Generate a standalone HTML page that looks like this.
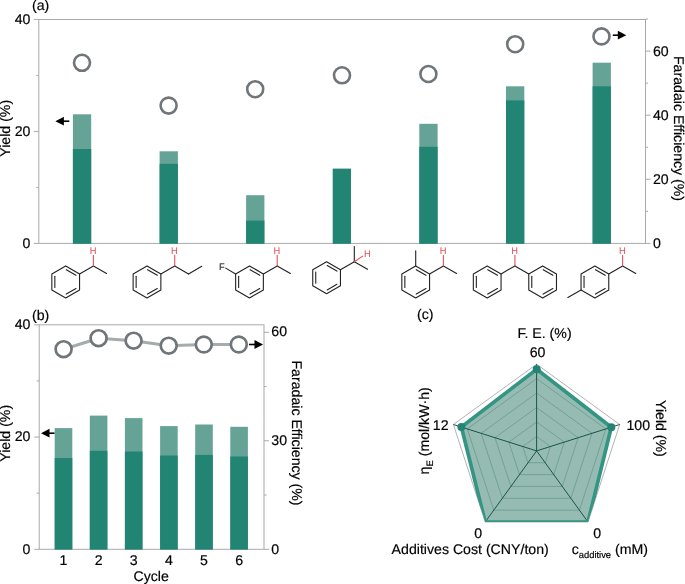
<!DOCTYPE html>
<html>
<head>
<meta charset="utf-8">
<title>Figure</title>
<style>
html,body{margin:0;padding:0;background:#fff;}
body{width:685px;height:584px;overflow:hidden;font-family:"Liberation Sans",sans-serif;}
svg{display:block;will-change:transform;}
svg text{font-family:"Liberation Sans",sans-serif;text-rendering:geometricPrecision;stroke:#000;stroke-width:0.18px;}
</style>
</head>
<body>
<svg width="685" height="584" viewBox="0 0 685 584">
<rect x="0" y="0" width="685" height="584" fill="#ffffff"/>
<rect x="38.8" y="19.5" width="606.7" height="223.9" fill="none" stroke="#a9a9a9" stroke-width="1"/>
<rect x="72.9" y="114.3" width="18.3" height="129.1" fill="#65a397"/>
<rect x="72.9" y="149" width="18.3" height="94.8" fill="#228573"/>
<rect x="159.6" y="151.3" width="18.3" height="92.1" fill="#65a397"/>
<rect x="159.6" y="163.8" width="18.3" height="80" fill="#228573"/>
<rect x="246.1" y="195.2" width="18.3" height="48.2" fill="#65a397"/>
<rect x="246.1" y="220.6" width="18.3" height="23.2" fill="#228573"/>
<rect x="332.7" y="168.6" width="18.3" height="75.2" fill="#228573"/>
<rect x="419.3" y="123.8" width="18.3" height="119.6" fill="#65a397"/>
<rect x="419.3" y="146.8" width="18.3" height="97" fill="#228573"/>
<rect x="506" y="86.3" width="18.3" height="157.1" fill="#65a397"/>
<rect x="506" y="100.4" width="18.3" height="143.4" fill="#228573"/>
<rect x="592.6" y="62.7" width="18.3" height="180.7" fill="#65a397"/>
<rect x="592.6" y="86.3" width="18.3" height="157.5" fill="#228573"/>
<line x1="33.8" y1="19.4" x2="38.8" y2="19.4" stroke="#a9a9a9" stroke-width="1" />
<text x="30.4" y="23.8" font-size="14.15" text-anchor="end" fill="#000" >40</text>
<line x1="36.3" y1="75.4" x2="38.8" y2="75.4" stroke="#a9a9a9" stroke-width="1" />
<line x1="33.8" y1="131.4" x2="38.8" y2="131.4" stroke="#a9a9a9" stroke-width="1" />
<text x="30.4" y="135.8" font-size="14.15" text-anchor="end" fill="#000" >20</text>
<line x1="36.3" y1="187.4" x2="38.8" y2="187.4" stroke="#a9a9a9" stroke-width="1" />
<line x1="33.8" y1="243.4" x2="38.8" y2="243.4" stroke="#a9a9a9" stroke-width="1" />
<text x="30.4" y="247.8" font-size="14.15" text-anchor="end" fill="#000" >0</text>
<line x1="645.5" y1="243.4" x2="650.5" y2="243.4" stroke="#a9a9a9" stroke-width="1" />
<text x="653" y="247.8" font-size="14.15" text-anchor="start" fill="#000" >0</text>
<line x1="645.5" y1="211.35" x2="648" y2="211.35" stroke="#a9a9a9" stroke-width="1" />
<line x1="645.5" y1="179.3" x2="650.5" y2="179.3" stroke="#a9a9a9" stroke-width="1" />
<text x="653" y="183.7" font-size="14.15" text-anchor="start" fill="#000" >20</text>
<line x1="645.5" y1="147.25" x2="648" y2="147.25" stroke="#a9a9a9" stroke-width="1" />
<line x1="645.5" y1="115.2" x2="650.5" y2="115.2" stroke="#a9a9a9" stroke-width="1" />
<text x="653" y="119.6" font-size="14.15" text-anchor="start" fill="#000" >40</text>
<line x1="645.5" y1="83.15" x2="648" y2="83.15" stroke="#a9a9a9" stroke-width="1" />
<line x1="645.5" y1="51.1" x2="650.5" y2="51.1" stroke="#a9a9a9" stroke-width="1" />
<text x="653" y="55.5" font-size="14.15" text-anchor="start" fill="#000" >60</text>
<line x1="645.5" y1="19.05" x2="648" y2="19.05" stroke="#a9a9a9" stroke-width="1" />
<circle cx="82" cy="62.8" r="8.0" fill="#fff" stroke="#70757a" stroke-width="2.6"/>
<circle cx="168.6" cy="105.6" r="8.0" fill="#fff" stroke="#70757a" stroke-width="2.6"/>
<circle cx="255.2" cy="89.2" r="8.0" fill="#fff" stroke="#70757a" stroke-width="2.6"/>
<circle cx="342" cy="75.3" r="8.0" fill="#fff" stroke="#70757a" stroke-width="2.6"/>
<circle cx="428.4" cy="74" r="8.0" fill="#fff" stroke="#70757a" stroke-width="2.6"/>
<circle cx="515.2" cy="44.2" r="8.0" fill="#fff" stroke="#70757a" stroke-width="2.6"/>
<circle cx="601.5" cy="36.4" r="8.0" fill="#fff" stroke="#70757a" stroke-width="2.6"/>
<line x1="59.4" y1="121.2" x2="69.3" y2="121.2" stroke="#000" stroke-width="1.6" />
<path d="M55.4 121.2 L63.9 116.8 L63.9 125.6 Z" fill="#000"/>
<line x1="612.8" y1="35.2" x2="622.3" y2="35.2" stroke="#000" stroke-width="1.6" />
<path d="M626.3 35.2 L617.8 30.8 L617.8 39.6 Z" fill="#000"/>
<text x="32" y="10.1" font-size="14.15" text-anchor="start" fill="#000" >(a)</text>
<text transform="translate(10.2,128.3) rotate(-90)" font-size="14.15" text-anchor="middle">Yield (%)</text>
<text transform="translate(674.2,128.5) rotate(90)" font-size="14.15" text-anchor="middle">Faradaic Efficiency (%)</text>
<polygon points="65.7,265.9 79.56,273.9 79.56,289.9 65.7,297.9 51.84,289.9 51.84,273.9" fill="none" stroke="#222222" stroke-width="1.1" stroke-linejoin="round"/>
<line x1="66.28" y1="269.7" x2="75.98" y2="275.3" stroke="#222222" stroke-width="1.1" stroke-linecap="round"/>
<line x1="75.98" y1="288.5" x2="66.28" y2="294.1" stroke="#222222" stroke-width="1.1" stroke-linecap="round"/>
<line x1="54.84" y1="287.5" x2="54.84" y2="276.3" stroke="#222222" stroke-width="1.1" stroke-linecap="round"/>
<line x1="79.56" y1="273.9" x2="93.41" y2="265.9" stroke="#222222" stroke-width="1.1" stroke-linecap="round"/>
<line x1="93.41" y1="265.9" x2="106.58" y2="273.5" stroke="#222222" stroke-width="1.1" stroke-linecap="round"/>
<line x1="93.41" y1="265.9" x2="93.41" y2="255.4" stroke="#e8505b" stroke-width="1.1" stroke-linecap="round"/>
<text x="93.16" y="253.55" font-size="9.3" text-anchor="middle" fill="#e8505b" style="stroke:#e8505b;stroke-width:0.05px">H</text>
<polygon points="147,265.9 160.86,273.9 160.86,289.9 147,297.9 133.14,289.9 133.14,273.9" fill="none" stroke="#222222" stroke-width="1.1" stroke-linejoin="round"/>
<line x1="147.58" y1="269.7" x2="157.28" y2="275.3" stroke="#222222" stroke-width="1.1" stroke-linecap="round"/>
<line x1="157.28" y1="288.5" x2="147.58" y2="294.1" stroke="#222222" stroke-width="1.1" stroke-linecap="round"/>
<line x1="136.14" y1="287.5" x2="136.14" y2="276.3" stroke="#222222" stroke-width="1.1" stroke-linecap="round"/>
<line x1="160.86" y1="273.9" x2="174.71" y2="265.9" stroke="#222222" stroke-width="1.1" stroke-linecap="round"/>
<line x1="174.71" y1="265.9" x2="188.57" y2="273.9" stroke="#222222" stroke-width="1.1" stroke-linecap="round"/>
<line x1="188.57" y1="273.9" x2="201.73" y2="266.3" stroke="#222222" stroke-width="1.1" stroke-linecap="round"/>
<line x1="174.71" y1="265.9" x2="174.71" y2="255.4" stroke="#e8505b" stroke-width="1.1" stroke-linecap="round"/>
<text x="174.46" y="253.55" font-size="9.3" text-anchor="middle" fill="#e8505b" style="stroke:#e8505b;stroke-width:0.05px">H</text>
<polygon points="249.5,265.9 263.36,273.9 263.36,289.9 249.5,297.9 235.64,289.9 235.64,273.9" fill="none" stroke="#222222" stroke-width="1.1" stroke-linejoin="round"/>
<line x1="250.08" y1="269.7" x2="259.78" y2="275.3" stroke="#222222" stroke-width="1.1" stroke-linecap="round"/>
<line x1="259.78" y1="288.5" x2="250.08" y2="294.1" stroke="#222222" stroke-width="1.1" stroke-linecap="round"/>
<line x1="238.64" y1="287.5" x2="238.64" y2="276.3" stroke="#222222" stroke-width="1.1" stroke-linecap="round"/>
<line x1="263.36" y1="273.9" x2="277.21" y2="265.9" stroke="#222222" stroke-width="1.1" stroke-linecap="round"/>
<line x1="277.21" y1="265.9" x2="290.38" y2="273.5" stroke="#222222" stroke-width="1.1" stroke-linecap="round"/>
<line x1="277.21" y1="265.9" x2="277.21" y2="255.4" stroke="#e8505b" stroke-width="1.1" stroke-linecap="round"/>
<text x="276.96" y="253.55" font-size="9.3" text-anchor="middle" fill="#e8505b" style="stroke:#e8505b;stroke-width:0.05px">H</text>
<line x1="235.64" y1="273.9" x2="225.67" y2="268.14" stroke="#222222" stroke-width="1.1" stroke-linecap="round"/>
<text x="221.84" y="269.75" font-size="9.3" text-anchor="middle" fill="#222222" style="stroke:#222222;stroke-width:0.1px">F</text>
<polygon points="326.6,261.7 340.46,269.7 340.46,285.7 326.6,293.7 312.74,285.7 312.74,269.7" fill="none" stroke="#222222" stroke-width="1.1" stroke-linejoin="round"/>
<line x1="327.18" y1="265.5" x2="336.88" y2="271.1" stroke="#222222" stroke-width="1.1" stroke-linecap="round"/>
<line x1="336.88" y1="284.3" x2="327.18" y2="289.9" stroke="#222222" stroke-width="1.1" stroke-linecap="round"/>
<line x1="315.74" y1="283.3" x2="315.74" y2="272.1" stroke="#222222" stroke-width="1.1" stroke-linecap="round"/>
<line x1="340.46" y1="269.7" x2="354.31" y2="261.7" stroke="#222222" stroke-width="1.1" stroke-linecap="round"/>
<line x1="354.31" y1="261.7" x2="354.31" y2="246.5" stroke="#222222" stroke-width="1.1" stroke-linecap="round"/>
<line x1="354.31" y1="261.7" x2="367.48" y2="269.3" stroke="#222222" stroke-width="1.1" stroke-linecap="round"/>
<line x1="354.31" y1="261.7" x2="362.71" y2="256.1" stroke="#e8505b" stroke-width="1.1" stroke-linecap="round"/>
<text x="367.46" y="256.85" font-size="9.3" text-anchor="middle" fill="#e8505b" style="stroke:#e8505b;stroke-width:0.05px">H</text>
<polygon points="415.7,265.9 429.56,273.9 429.56,289.9 415.7,297.9 401.84,289.9 401.84,273.9" fill="none" stroke="#222222" stroke-width="1.1" stroke-linejoin="round"/>
<line x1="416.28" y1="269.7" x2="425.98" y2="275.3" stroke="#222222" stroke-width="1.1" stroke-linecap="round"/>
<line x1="425.98" y1="288.5" x2="416.28" y2="294.1" stroke="#222222" stroke-width="1.1" stroke-linecap="round"/>
<line x1="404.84" y1="287.5" x2="404.84" y2="276.3" stroke="#222222" stroke-width="1.1" stroke-linecap="round"/>
<line x1="429.56" y1="273.9" x2="443.41" y2="265.9" stroke="#222222" stroke-width="1.1" stroke-linecap="round"/>
<line x1="443.41" y1="265.9" x2="456.58" y2="273.5" stroke="#222222" stroke-width="1.1" stroke-linecap="round"/>
<line x1="443.41" y1="265.9" x2="443.41" y2="255.4" stroke="#e8505b" stroke-width="1.1" stroke-linecap="round"/>
<text x="443.16" y="253.55" font-size="9.3" text-anchor="middle" fill="#e8505b" style="stroke:#e8505b;stroke-width:0.05px">H</text>
<line x1="415.7" y1="265.9" x2="415.7" y2="250.7" stroke="#222222" stroke-width="1.1" stroke-linecap="round"/>
<polygon points="487.2,265.9 501.06,273.9 501.06,289.9 487.2,297.9 473.34,289.9 473.34,273.9" fill="none" stroke="#222222" stroke-width="1.1" stroke-linejoin="round"/>
<line x1="487.78" y1="269.7" x2="497.48" y2="275.3" stroke="#222222" stroke-width="1.1" stroke-linecap="round"/>
<line x1="497.48" y1="288.5" x2="487.78" y2="294.1" stroke="#222222" stroke-width="1.1" stroke-linecap="round"/>
<line x1="476.34" y1="287.5" x2="476.34" y2="276.3" stroke="#222222" stroke-width="1.1" stroke-linecap="round"/>
<line x1="501.06" y1="273.9" x2="514.91" y2="265.9" stroke="#222222" stroke-width="1.1" stroke-linecap="round"/>
<polygon points="542.63,265.9 556.48,273.9 556.48,289.9 542.63,297.9 528.77,289.9 528.77,273.9" fill="none" stroke="#222222" stroke-width="1.1" stroke-linejoin="round"/>
<line x1="543.2" y1="269.7" x2="552.9" y2="275.3" stroke="#222222" stroke-width="1.1" stroke-linecap="round"/>
<line x1="552.9" y1="288.5" x2="543.2" y2="294.1" stroke="#222222" stroke-width="1.1" stroke-linecap="round"/>
<line x1="531.77" y1="287.5" x2="531.77" y2="276.3" stroke="#222222" stroke-width="1.1" stroke-linecap="round"/>
<line x1="514.91" y1="265.9" x2="528.77" y2="273.9" stroke="#222222" stroke-width="1.1" stroke-linecap="round"/>
<line x1="514.91" y1="265.9" x2="514.91" y2="255.4" stroke="#e8505b" stroke-width="1.1" stroke-linecap="round"/>
<text x="514.66" y="253.55" font-size="9.3" text-anchor="middle" fill="#e8505b" style="stroke:#e8505b;stroke-width:0.05px">H</text>
<polygon points="594.9,265.9 608.76,273.9 608.76,289.9 594.9,297.9 581.04,289.9 581.04,273.9" fill="none" stroke="#222222" stroke-width="1.1" stroke-linejoin="round"/>
<line x1="595.48" y1="269.7" x2="605.18" y2="275.3" stroke="#222222" stroke-width="1.1" stroke-linecap="round"/>
<line x1="605.18" y1="288.5" x2="595.48" y2="294.1" stroke="#222222" stroke-width="1.1" stroke-linecap="round"/>
<line x1="584.04" y1="287.5" x2="584.04" y2="276.3" stroke="#222222" stroke-width="1.1" stroke-linecap="round"/>
<line x1="608.76" y1="273.9" x2="622.61" y2="265.9" stroke="#222222" stroke-width="1.1" stroke-linecap="round"/>
<line x1="622.61" y1="265.9" x2="635.78" y2="273.5" stroke="#222222" stroke-width="1.1" stroke-linecap="round"/>
<line x1="622.61" y1="265.9" x2="622.61" y2="255.4" stroke="#e8505b" stroke-width="1.1" stroke-linecap="round"/>
<text x="622.36" y="253.55" font-size="9.3" text-anchor="middle" fill="#e8505b" style="stroke:#e8505b;stroke-width:0.05px">H</text>
<line x1="581.04" y1="289.9" x2="567.88" y2="297.5" stroke="#222222" stroke-width="1.1" stroke-linecap="round"/>
<rect x="39.2" y="324.8" width="224.8" height="224.5" fill="none" stroke="#a9a9a9" stroke-width="1"/>
<rect x="54.7" y="428.1" width="17.6" height="121.2" fill="#65a397"/>
<rect x="54.7" y="458" width="17.6" height="91.6" fill="#228573"/>
<rect x="89.8" y="415.6" width="17.6" height="133.7" fill="#65a397"/>
<rect x="89.8" y="450.8" width="17.6" height="98.8" fill="#228573"/>
<rect x="124.9" y="418.1" width="17.6" height="131.2" fill="#65a397"/>
<rect x="124.9" y="451.5" width="17.6" height="98.1" fill="#228573"/>
<rect x="160.1" y="426.1" width="17.6" height="123.2" fill="#65a397"/>
<rect x="160.1" y="455.5" width="17.6" height="94.1" fill="#228573"/>
<rect x="195.2" y="424.5" width="17.6" height="124.8" fill="#65a397"/>
<rect x="195.2" y="454.9" width="17.6" height="94.7" fill="#228573"/>
<rect x="230.3" y="426.8" width="17.6" height="122.5" fill="#65a397"/>
<rect x="230.3" y="456.5" width="17.6" height="93.1" fill="#228573"/>
<line x1="34.2" y1="324.8" x2="39.2" y2="324.8" stroke="#a9a9a9" stroke-width="1" />
<text x="30.4" y="329" font-size="14.15" text-anchor="end" fill="#000" >40</text>
<line x1="36.7" y1="380.93" x2="39.2" y2="380.93" stroke="#a9a9a9" stroke-width="1" />
<line x1="34.2" y1="437.05" x2="39.2" y2="437.05" stroke="#a9a9a9" stroke-width="1" />
<text x="30.4" y="441.25" font-size="14.15" text-anchor="end" fill="#000" >20</text>
<line x1="36.7" y1="493.17" x2="39.2" y2="493.17" stroke="#a9a9a9" stroke-width="1" />
<line x1="34.2" y1="549.3" x2="39.2" y2="549.3" stroke="#a9a9a9" stroke-width="1" />
<text x="30.4" y="553.5" font-size="14.15" text-anchor="end" fill="#000" >0</text>
<line x1="264" y1="549.3" x2="269" y2="549.3" stroke="#a9a9a9" stroke-width="1" />
<text x="271.3" y="553.5" font-size="14.15" text-anchor="start" fill="#000" >0</text>
<line x1="264" y1="495.04" x2="266.5" y2="495.04" stroke="#a9a9a9" stroke-width="1" />
<line x1="264" y1="440.79" x2="269" y2="440.79" stroke="#a9a9a9" stroke-width="1" />
<text x="271.3" y="444.99" font-size="14.15" text-anchor="start" fill="#000" >30</text>
<line x1="264" y1="386.53" x2="266.5" y2="386.53" stroke="#a9a9a9" stroke-width="1" />
<line x1="264" y1="332.28" x2="269" y2="332.28" stroke="#a9a9a9" stroke-width="1" />
<text x="271.3" y="336.48" font-size="14.15" text-anchor="start" fill="#000" >60</text>
<polyline points="63.6,349.2 98.6,338.2 133.6,340.7 168.7,345.7 203.8,344.5 238.8,344.5" fill="none" stroke="#a6acab" stroke-width="3"/>
<circle cx="63.6" cy="349.2" r="7.95" fill="#fff" stroke="#70757a" stroke-width="2.7"/>
<circle cx="98.6" cy="338.2" r="7.95" fill="#fff" stroke="#70757a" stroke-width="2.7"/>
<circle cx="133.6" cy="340.7" r="7.95" fill="#fff" stroke="#70757a" stroke-width="2.7"/>
<circle cx="168.7" cy="345.7" r="7.95" fill="#fff" stroke="#70757a" stroke-width="2.7"/>
<circle cx="203.8" cy="344.5" r="7.95" fill="#fff" stroke="#70757a" stroke-width="2.7"/>
<circle cx="238.8" cy="344.5" r="7.95" fill="#fff" stroke="#70757a" stroke-width="2.7"/>
<line x1="45" y1="433.2" x2="54.5" y2="433.2" stroke="#000" stroke-width="1.6" />
<path d="M41 433.2 L49.5 428.8 L49.5 437.6 Z" fill="#000"/>
<line x1="249" y1="344.5" x2="259" y2="344.5" stroke="#000" stroke-width="1.6" />
<path d="M263 344.5 L254.5 340.1 L254.5 348.9 Z" fill="#000"/>
<text x="63.5" y="564.9" font-size="14.15" text-anchor="middle" fill="#000" >1</text>
<text x="98.6" y="564.9" font-size="14.15" text-anchor="middle" fill="#000" >2</text>
<text x="133.7" y="564.9" font-size="14.15" text-anchor="middle" fill="#000" >3</text>
<text x="168.9" y="564.9" font-size="14.15" text-anchor="middle" fill="#000" >4</text>
<text x="204" y="564.9" font-size="14.15" text-anchor="middle" fill="#000" >5</text>
<text x="239.1" y="564.9" font-size="14.15" text-anchor="middle" fill="#000" >6</text>
<text x="151.2" y="581.3" font-size="14.15" text-anchor="middle" fill="#000" >Cycle</text>
<text x="32" y="319.5" font-size="14.15" text-anchor="start" fill="#000" >(b)</text>
<text transform="translate(10.2,433.3) rotate(-90)" font-size="14.15" text-anchor="middle">Yield (%)</text>
<text transform="translate(292.3,433.0) rotate(90)" font-size="14.15" text-anchor="middle">Faradaic Efficiency (%)</text>
<clipPath id="rc"><polygon points="536.6,364.2 619.7,424.5 588,522 485.2,522 453.4,424.5"/></clipPath>
<polygon points="536.6,364.2 619.7,424.5 588,522 485.2,522 453.4,424.5" fill="none" stroke="#555" stroke-width="0.45"/>
<polygon points="536.7,369.3 611.3,427.2 588,522 485.2,522 461.4,427" fill="#96bbb2" stroke="none"/>
<polygon points="536.6,436.45 550.45,446.5 545.17,462.75 528.03,462.75 522.73,446.5" fill="none" stroke="#5a8f82" stroke-width="0.6"/>
<polygon points="536.6,422 564.3,442.1 553.73,474.6 519.47,474.6 508.87,442.1" fill="none" stroke="#5a8f82" stroke-width="0.6"/>
<polygon points="536.6,407.55 578.15,437.7 562.3,486.45 510.9,486.45 495,437.7" fill="none" stroke="#5a8f82" stroke-width="0.6"/>
<polygon points="536.6,393.1 592,433.3 570.87,498.3 502.33,498.3 481.13,433.3" fill="none" stroke="#5a8f82" stroke-width="0.6"/>
<polygon points="536.6,378.65 605.85,428.9 579.43,510.15 493.77,510.15 467.27,428.9" fill="none" stroke="#5a8f82" stroke-width="0.6"/>
<line x1="536.6" y1="450.9" x2="536.6" y2="364.2" stroke="#1b5447" stroke-width="1.0" />
<line x1="536.6" y1="450.9" x2="619.7" y2="424.5" stroke="#1b5447" stroke-width="1.0" />
<line x1="536.6" y1="450.9" x2="588" y2="522" stroke="#1b5447" stroke-width="1.0" />
<line x1="536.6" y1="450.9" x2="485.2" y2="522" stroke="#1b5447" stroke-width="1.0" />
<line x1="536.6" y1="450.9" x2="453.4" y2="424.5" stroke="#1b5447" stroke-width="1.0" />
<polygon points="536.7,369.3 611.3,427.2 588,522 485.2,522 461.4,427" fill="none" stroke="#349682" stroke-width="3.7" stroke-linejoin="miter" clip-path="url(#rc)"/>
<circle cx="536.7" cy="369.3" r="4.0" fill="#228573"/>
<circle cx="611.3" cy="427.2" r="4.0" fill="#228573"/>
<circle cx="461.4" cy="427" r="4.0" fill="#228573"/>
<text x="417.1" y="319" font-size="14.15" text-anchor="start" fill="#000" >(c)</text>
<text x="544.5" y="338.2" font-size="14.15" text-anchor="middle" fill="#000" >F. E. (%)</text>
<text x="537.5" y="357.1" font-size="14.15" text-anchor="middle" fill="#000" >60</text>
<text x="448.6" y="430.2" font-size="14.15" text-anchor="end" fill="#000" >12</text>
<text x="626.5" y="430.2" font-size="14.15" text-anchor="start" fill="#000" >100</text>
<text x="478.2" y="538" font-size="14.15" text-anchor="middle" fill="#000" >0</text>
<text x="597.3" y="538" font-size="14.15" text-anchor="middle" fill="#000" >0</text>
<text x="391.6" y="554.4" font-size="14.15" text-anchor="start" fill="#000" >Additives Cost (CNY/ton)</text>
<text x="571.7" y="554.4" font-size="14.15">c<tspan font-size="9.4" dy="3.4">additive</tspan><tspan dy="-3.4"> (mM)</tspan></text>
<text transform="translate(429.4,430.8) rotate(-90)" font-size="14.15" text-anchor="middle">η<tspan font-size="9.4" dy="3.4">E</tspan><tspan dy="-3.4"> (mol/kW·h)</tspan></text>
<text transform="translate(656,428.4) rotate(90)" font-size="14.15" text-anchor="middle">Yield (%)</text>
</svg>
</body>
</html>
